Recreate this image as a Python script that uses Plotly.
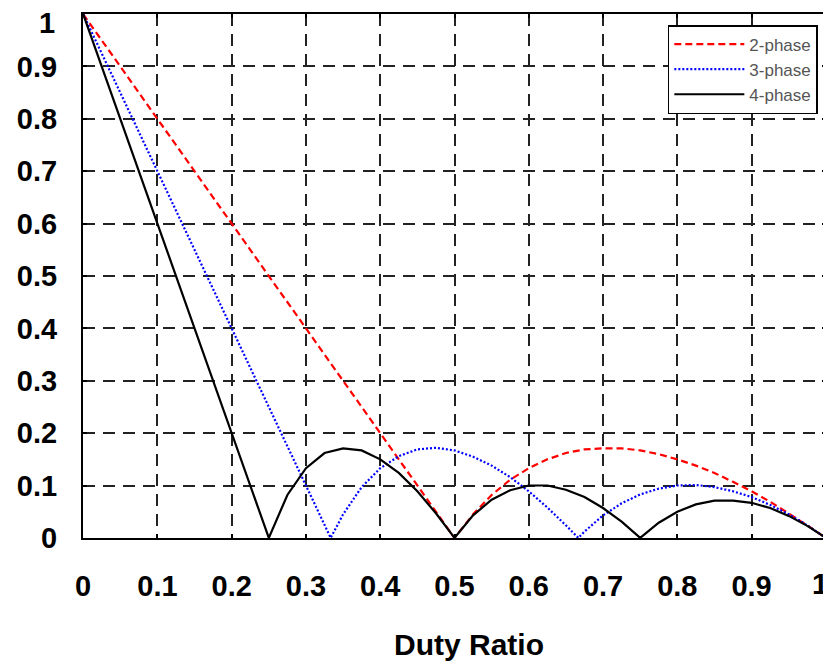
import plotly.graph_objects as go

# Duty ratio samples and ripple ratio values
x2 = [0, 0.1, 0.2, 0.3, 0.4, 0.5, 0.525, 0.55, 0.575, 0.6, 0.625, 0.65, 0.675, 0.7,
      0.725, 0.75, 0.775, 0.8, 0.825, 0.85, 0.875, 0.9, 0.925, 0.95, 0.975, 1.0]
y2 = [1.0, 0.8, 0.6, 0.4, 0.2, 0.0, 0.045, 0.082, 0.111, 0.133, 0.150, 0.162, 0.169, 0.171,
      0.171, 0.167, 0.160, 0.150, 0.138, 0.124, 0.107, 0.089, 0.069, 0.047, 0.024, 0.0]

x3 = [0, 0.1, 0.2, 0.3, 0.3333, 0.35, 0.375, 0.4, 0.425, 0.45, 0.475, 0.5, 0.525, 0.55,
      0.575, 0.6, 0.625, 0.65, 0.6667, 0.675, 0.7, 0.725, 0.75, 0.775, 0.8, 0.825, 0.85,
      0.875, 0.9, 0.925, 0.95, 0.975, 1.0]
y3 = [1.0, 0.7, 0.4, 0.1, 0.0, 0.045, 0.097, 0.133, 0.156, 0.169, 0.172, 0.167, 0.155, 0.138,
      0.116, 0.089, 0.058, 0.024, 0.0, 0.012, 0.043, 0.066, 0.083, 0.094, 0.100, 0.101, 0.097,
      0.089, 0.078, 0.063, 0.045, 0.024, 0.0]

x4 = [0, 0.1, 0.2, 0.25, 0.275, 0.3, 0.325, 0.35, 0.375, 0.4, 0.425, 0.45, 0.475, 0.5,
      0.525, 0.55, 0.575, 0.6, 0.625, 0.65, 0.675, 0.7, 0.725, 0.75, 0.775, 0.8, 0.825,
      0.85, 0.875, 0.9, 0.925, 0.95, 0.975, 1.0]
y4 = [1.0, 0.6, 0.2, 0.0, 0.082, 0.133, 0.162, 0.171, 0.167, 0.150, 0.124, 0.089, 0.047, 0.0,
      0.043, 0.073, 0.091, 0.100, 0.100, 0.092, 0.078, 0.057, 0.031, 0.0, 0.029, 0.050, 0.064,
      0.071, 0.071, 0.067, 0.057, 0.042, 0.023, 0.0]

tick_vals = [0, 0.1, 0.2, 0.3, 0.4, 0.5, 0.6, 0.7, 0.8, 0.9, 1]
# the last label ("1") is drawn as an annotation so it is not clipped at the page edge
tick_text = ["0", "0.1", "0.2", "0.3", "0.4", "0.5", "0.6", "0.7", "0.8", "0.9", ""]
end_label = "1"

FONT = "Liberation Sans, Arial"

fig = go.Figure()
fig.add_trace(go.Scatter(x=x2, y=y2, mode="lines", name="2-phase",
                         line=dict(color="#ff0000", width=2.2, dash="7px,4px")))
fig.add_trace(go.Scatter(x=x3, y=y3, mode="lines", name="3-phase",
                         line=dict(color="#0000ff", width=2.2, dash="2px,2px")))
fig.add_trace(go.Scatter(x=x4, y=y4, mode="lines", name="4-phase",
                         line=dict(color="#000000", width=2.2)))

axis_common = dict(
    range=[-0.0002, 1.0002], tickvals=tick_vals, ticktext=tick_text,
    showgrid=True, gridcolor="#222222", gridwidth=1.5, griddash="12px,8px",
    showline=True, linecolor="black", linewidth=2, mirror="ticks",
    ticks="inside", ticklen=4, tickcolor="black", tickwidth=1.5,
    zeroline=False, automargin=False, ticklabeloverflow="allow",
    tickfont=dict(family=FONT, size=29, color="black", weight="bold"),
)

fig.update_xaxes(**axis_common, ticklabelstandoff=21)
fig.update_yaxes(**axis_common, ticklabelstandoff=18)

label_font = dict(family=FONT, size=29, color="black", weight="bold")
# y-axis end label
fig.add_annotation(text=end_label, xref="paper", yref="y", x=0, y=tick_vals[-1],
                   xanchor="right", yanchor="middle", xshift=-26, yshift=-9,
                   showarrow=False, font=label_font)
# x-axis end label
fig.add_annotation(text=end_label, xref="x", yref="paper", x=tick_vals[-1], y=0,
                   xanchor="right", yanchor="middle", xshift=4, yshift=-46,
                   showarrow=False, font=label_font)

fig.add_annotation(text="<b>Duty Ratio</b>", xref="paper", yref="paper",
                   x=0.5195, y=-0.204, showarrow=False, xanchor="center", yanchor="middle",
                   font=dict(family=FONT, size=30, color="black"))

# page body has an 8px default margin, so the figure is offset by 8px
fig.update_layout(
    width=823, height=653,
    margin=dict(l=75, r=5, t=6, b=123),
    plot_bgcolor="white", paper_bgcolor="white",
    showlegend=True,
    legend=dict(x=0.989, y=0.979, xanchor="right", yanchor="top",
                bgcolor="white", bordercolor="black", borderwidth=1.5,
                font=dict(family=FONT, size=17, color="#555555"),
                tracegroupgap=0, itemwidth=70),
)

fig.write_html("out.html")
